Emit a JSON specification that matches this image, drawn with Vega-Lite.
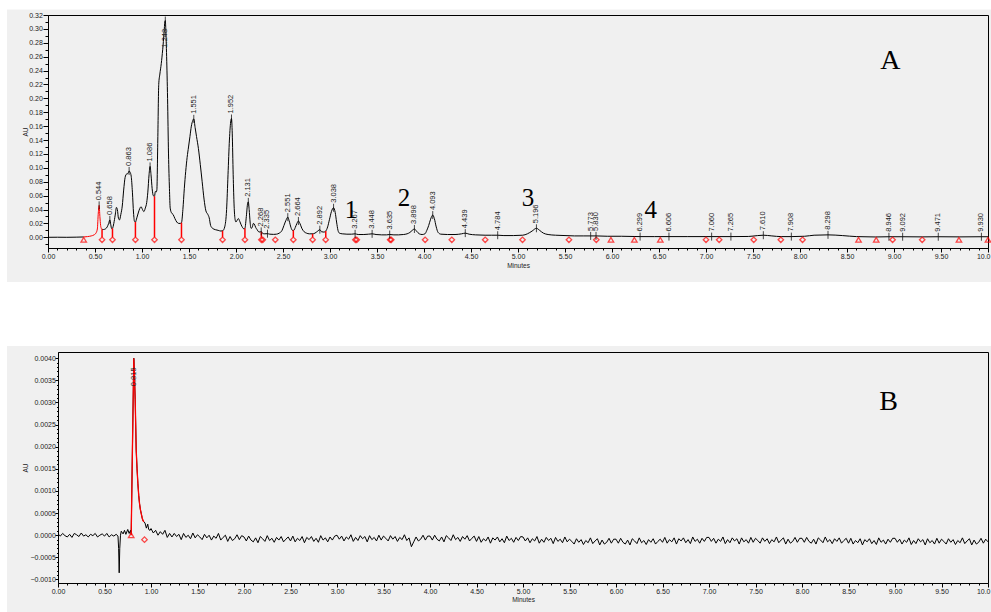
{
  "$schema": "https://vega.github.io/schema/vega-lite/v6.json",
  "background": "#f0f0f0",
  "padding": 0,
  "spacing": 0,
  "config": {
    "view": {"stroke": "black", "strokeWidth": 1},
    "axis": {"labelFont": "Liberation Sans", "labelFontSize": 7, "labelColor": "#222", "titleFont": "Liberation Sans", "titleFontSize": 6.5, "titleFontWeight": "normal", "titleColor": "#222", "domainColor": "black", "tickColor": "black", "grid": false, "labelOverlap": false, "labelFlush": false, "labelBound": false}
  },
  "datasets": {
    "top": [
      {"t":0,"v":0,"p":"b1"},{"t":0.1,"v":0.0001,"p":"b1"},{"t":0.2,"v":0,"p":"b1"},{"t":0.3,"v":0.0002,"p":"b1"},{"t":0.38,"v":0.0005,"p":"b1"},
      {"t":0.38,"v":0.0005,"p":"r"},{"t":0.42,"v":0.001,"p":"r"},{"t":0.46,"v":0.002,"p":"r"},{"t":0.49,"v":0.0035,"p":"r"},{"t":0.51,"v":0.006,"p":"r"},{"t":0.525,"v":0.012,"p":"r"},{"t":0.535,"v":0.035,"p":"r"},{"t":0.544,"v":0.046,"p":"r"},{"t":0.552,"v":0.03,"p":"r"},{"t":0.56,"v":0.017,"p":"r"},{"t":0.568,"v":0.0125,"p":"r"},{"t":0.575,"v":0.0115,"p":"r"},
      {"t":0.575,"v":0.0115,"p":"b2"},{"t":0.59,"v":0.0112,"p":"b2"},{"t":0.61,"v":0.012,"p":"b2"},{"t":0.63,"v":0.015,"p":"b2"},{"t":0.645,"v":0.02,"p":"b2"},{"t":0.658,"v":0.025,"p":"b2"},{"t":0.668,"v":0.018,"p":"b2"},{"t":0.677,"v":0.0125,"p":"b2"},{"t":0.686,"v":0.013,"p":"b2"},{"t":0.7,"v":0.02,"p":"b2"},{"t":0.715,"v":0.032,"p":"b2"},{"t":0.728,"v":0.043,"p":"b2"},{"t":0.738,"v":0.04,"p":"b2"},{"t":0.75,"v":0.027,"p":"b2"},{"t":0.76,"v":0.025,"p":"b2"},{"t":0.775,"v":0.033,"p":"b2"},{"t":0.79,"v":0.045,"p":"b2"},{"t":0.805,"v":0.068,"p":"b2"},{"t":0.82,"v":0.086,"p":"b2"},{"t":0.835,"v":0.091,"p":"b2"},{"t":0.848,"v":0.0915,"p":"b2"},{"t":0.856,"v":0.0935,"p":"b2"},{"t":0.863,"v":0.0955,"p":"b2"},{"t":0.872,"v":0.094,"p":"b2"},{"t":0.885,"v":0.088,"p":"b2"},{"t":0.898,"v":0.065,"p":"b2"},{"t":0.91,"v":0.035,"p":"b2"},{"t":0.92,"v":0.023,"p":"b2"},{"t":0.93,"v":0.022,"p":"b2"},{"t":0.945,"v":0.028,"p":"b2"},{"t":0.96,"v":0.035,"p":"b2"},{"t":0.975,"v":0.041,"p":"b2"},{"t":0.99,"v":0.044,"p":"b2"},{"t":1.005,"v":0.04,"p":"b2"},{"t":1.02,"v":0.037,"p":"b2"},{"t":1.035,"v":0.042,"p":"b2"},{"t":1.05,"v":0.05,"p":"b2"},{"t":1.062,"v":0.065,"p":"b2"},{"t":1.075,"v":0.09,"p":"b2"},{"t":1.086,"v":0.102,"p":"b2"},{"t":1.096,"v":0.09,"p":"b2"},{"t":1.108,"v":0.07,"p":"b2"},{"t":1.12,"v":0.06,"p":"b2"},{"t":1.133,"v":0.059,"p":"b2"},{"t":1.142,"v":0.066,"p":"b2"},{"t":1.15,"v":0.065,"p":"b2"},{"t":1.158,"v":0.068,"p":"b2"},{"t":1.168,"v":0.14,"p":"b2"},{"t":1.178,"v":0.22,"p":"b2"},{"t":1.19,"v":0.235,"p":"b2"},{"t":1.205,"v":0.25,"p":"b2"},{"t":1.22,"v":0.27,"p":"b2"},{"t":1.235,"v":0.295,"p":"b2"},{"t":1.243,"v":0.31,"p":"b2"},{"t":1.248,"v":0.312,"p":"b2"},{"t":1.253,"v":0.3,"p":"b2"},{"t":1.262,"v":0.26,"p":"b2"},{"t":1.272,"v":0.2,"p":"b2"},{"t":1.282,"v":0.12,"p":"b2"},{"t":1.292,"v":0.07,"p":"b2"},{"t":1.3,"v":0.042,"p":"b2"},{"t":1.315,"v":0.035,"p":"b2"},{"t":1.33,"v":0.033,"p":"b2"},{"t":1.35,"v":0.027,"p":"b2"},{"t":1.37,"v":0.022,"p":"b2"},{"t":1.39,"v":0.02,"p":"b2"},{"t":1.405,"v":0.02,"p":"b2"},{"t":1.42,"v":0.021,"p":"b2"},{"t":1.435,"v":0.04,"p":"b2"},{"t":1.45,"v":0.07,"p":"b2"},{"t":1.465,"v":0.095,"p":"b2"},{"t":1.48,"v":0.115,"p":"b2"},{"t":1.495,"v":0.13,"p":"b2"},{"t":1.51,"v":0.145,"p":"b2"},{"t":1.525,"v":0.16,"p":"b2"},{"t":1.54,"v":0.168,"p":"b2"},{"t":1.551,"v":0.1705,"p":"b2"},{"t":1.565,"v":0.158,"p":"b2"},{"t":1.58,"v":0.145,"p":"b2"},{"t":1.6,"v":0.128,"p":"b2"},{"t":1.62,"v":0.105,"p":"b2"},{"t":1.64,"v":0.08,"p":"b2"},{"t":1.66,"v":0.055,"p":"b2"},{"t":1.68,"v":0.038,"p":"b2"},{"t":1.7,"v":0.033,"p":"b2"},{"t":1.715,"v":0.028,"p":"b2"},{"t":1.73,"v":0.017,"p":"b2"},{"t":1.75,"v":0.013,"p":"b2"},{"t":1.78,"v":0.011,"p":"b2"},{"t":1.81,"v":0.01,"p":"b2"},{"t":1.84,"v":0.009,"p":"b2"},{"t":1.86,"v":0.0095,"p":"b2"},{"t":1.88,"v":0.015,"p":"b2"},{"t":1.9,"v":0.04,"p":"b2"},{"t":1.915,"v":0.09,"p":"b2"},{"t":1.93,"v":0.14,"p":"b2"},{"t":1.945,"v":0.168,"p":"b2"},{"t":1.952,"v":0.171,"p":"b2"},{"t":1.96,"v":0.15,"p":"b2"},{"t":1.97,"v":0.09,"p":"b2"},{"t":1.98,"v":0.045,"p":"b2"},{"t":1.99,"v":0.026,"p":"b2"},{"t":2.0,"v":0.022,"p":"b2"},{"t":2.01,"v":0.024,"p":"b2"},{"t":2.025,"v":0.027,"p":"b2"},{"t":2.04,"v":0.023,"p":"b2"},{"t":2.055,"v":0.018,"p":"b2"},{"t":2.07,"v":0.014,"p":"b2"},{"t":2.085,"v":0.012,"p":"b2"},{"t":2.095,"v":0.013,"p":"b2"},{"t":2.11,"v":0.03,"p":"b2"},{"t":2.124,"v":0.049,"p":"b2"},{"t":2.131,"v":0.051,"p":"b2"},{"t":2.14,"v":0.04,"p":"b2"},{"t":2.15,"v":0.022,"p":"b2"},{"t":2.16,"v":0.013,"p":"b2"},{"t":2.172,"v":0.014,"p":"b2"},{"t":2.185,"v":0.02,"p":"b2"},{"t":2.195,"v":0.019,"p":"b2"},{"t":2.21,"v":0.014,"p":"b2"},{"t":2.225,"v":0.011,"p":"b2"},{"t":2.24,"v":0.008,"p":"b2"},{"t":2.255,"v":0.0075,"p":"b2"},{"t":2.268,"v":0.0085,"p":"b2"},{"t":2.28,"v":0.006,"p":"b2"},{"t":2.3,"v":0.005,"p":"b2"},{"t":2.335,"v":0.0052,"p":"b2"},{"t":2.36,"v":0.0045,"p":"b2"},{"t":2.4,"v":0.0042,"p":"b2"},{"t":2.43,"v":0.0045,"p":"b2"},{"t":2.46,"v":0.006,"p":"b2"},{"t":2.49,"v":0.01,"p":"b2"},{"t":2.51,"v":0.017,"p":"b2"},{"t":2.53,"v":0.024,"p":"b2"},{"t":2.551,"v":0.029,"p":"b2"},{"t":2.565,"v":0.024,"p":"b2"},{"t":2.585,"v":0.014,"p":"b2"},{"t":2.6,"v":0.01,"p":"b2"},{"t":2.615,"v":0.01,"p":"b2"},{"t":2.63,"v":0.014,"p":"b2"},{"t":2.648,"v":0.02,"p":"b2"},{"t":2.664,"v":0.0235,"p":"b2"},{"t":2.68,"v":0.02,"p":"b2"},{"t":2.7,"v":0.013,"p":"b2"},{"t":2.725,"v":0.008,"p":"b2"},{"t":2.75,"v":0.006,"p":"b2"},{"t":2.78,"v":0.005,"p":"b2"},{"t":2.81,"v":0.005,"p":"b2"},{"t":2.84,"v":0.006,"p":"b2"},{"t":2.87,"v":0.009,"p":"b2"},{"t":2.892,"v":0.011,"p":"b2"},{"t":2.91,"v":0.008,"p":"b2"},{"t":2.935,"v":0.0075,"p":"b2"},{"t":2.955,"v":0.009,"p":"b2"},{"t":2.975,"v":0.015,"p":"b2"},{"t":2.995,"v":0.026,"p":"b2"},{"t":3.015,"v":0.037,"p":"b2"},{"t":3.038,"v":0.0425,"p":"b2"},{"t":3.055,"v":0.036,"p":"b2"},{"t":3.07,"v":0.022,"p":"b2"},{"t":3.085,"v":0.01,"p":"b2"},{"t":3.1,"v":0.006,"p":"b2"},{"t":3.13,"v":0.005,"p":"b2"},{"t":3.18,"v":0.0045,"p":"b2"},{"t":3.23,"v":0.0045,"p":"b2"},{"t":3.267,"v":0.005,"p":"b2"},{"t":3.3,"v":0.004,"p":"b2"},{"t":3.36,"v":0.004,"p":"b2"},{"t":3.41,"v":0.0045,"p":"b2"},{"t":3.448,"v":0.005,"p":"b2"},{"t":3.49,"v":0.004,"p":"b2"},{"t":3.55,"v":0.0035,"p":"b2"},{"t":3.6,"v":0.0035,"p":"b2"},{"t":3.635,"v":0.004,"p":"b2"},{"t":3.68,"v":0.0035,"p":"b2"},{"t":3.73,"v":0.0035,"p":"b2"},{"t":3.78,"v":0.004,"p":"b2"},{"t":3.82,"v":0.005,"p":"b2"},{"t":3.85,"v":0.007,"p":"b2"},{"t":3.875,"v":0.01,"p":"b2"},{"t":3.898,"v":0.012,"p":"b2"},{"t":3.92,"v":0.009,"p":"b2"},{"t":3.95,"v":0.005,"p":"b2"},{"t":3.98,"v":0.004,"p":"b2"},{"t":4.01,"v":0.005,"p":"b2"},{"t":4.03,"v":0.01,"p":"b2"},{"t":4.05,"v":0.017,"p":"b2"},{"t":4.07,"v":0.026,"p":"b2"},{"t":4.093,"v":0.032,"p":"b2"},{"t":4.11,"v":0.027,"p":"b2"},{"t":4.13,"v":0.015,"p":"b2"},{"t":4.15,"v":0.007,"p":"b2"},{"t":4.18,"v":0.0045,"p":"b2"},{"t":4.25,"v":0.004,"p":"b2"},{"t":4.33,"v":0.004,"p":"b2"},{"t":4.4,"v":0.005,"p":"b2"},{"t":4.439,"v":0.006,"p":"b2"},{"t":4.48,"v":0.0045,"p":"b2"},{"t":4.55,"v":0.0035,"p":"b2"},{"t":4.65,"v":0.003,"p":"b2"},{"t":4.72,"v":0.003,"p":"b2"},{"t":4.784,"v":0.003,"p":"b2"},{"t":4.85,"v":0.0025,"p":"b2"},{"t":4.95,"v":0.0025,"p":"b2"},{"t":5.05,"v":0.003,"p":"b2"},{"t":5.1,"v":0.005,"p":"b2"},{"t":5.15,"v":0.009,"p":"b2"},{"t":5.196,"v":0.013,"p":"b2"},{"t":5.23,"v":0.01,"p":"b2"},{"t":5.27,"v":0.006,"p":"b2"},{"t":5.32,"v":0.004,"p":"b2"},{"t":5.4,"v":0.003,"p":"b2"},{"t":5.5,"v":0.0025,"p":"b2"},{"t":5.6,"v":0.002,"p":"b2"},{"t":5.7,"v":0.002,"p":"b2"},{"t":5.773,"v":0.002,"p":"b2"},{"t":5.83,"v":0.002,"p":"b2"},{"t":5.95,"v":0.0015,"p":"b2"},{"t":6.1,"v":0.0015,"p":"b2"},{"t":6.299,"v":0.001,"p":"b2"},{"t":6.45,"v":0.001,"p":"b2"},{"t":6.606,"v":0.001,"p":"b2"},{"t":6.8,"v":0.001,"p":"b2"},{"t":7.06,"v":0.001,"p":"b2"},{"t":7.265,"v":0.001,"p":"b2"},{"t":7.45,"v":0.0012,"p":"b2"},{"t":7.55,"v":0.0025,"p":"b2"},{"t":7.61,"v":0.003,"p":"b2"},{"t":7.7,"v":0.002,"p":"b2"},{"t":7.8,"v":0.001,"p":"b2"},{"t":7.908,"v":0.001,"p":"b2"},{"t":8.05,"v":0.0015,"p":"b2"},{"t":8.15,"v":0.003,"p":"b2"},{"t":8.298,"v":0.0035,"p":"b2"},{"t":8.45,"v":0.0025,"p":"b2"},{"t":8.6,"v":0.001,"p":"b2"},{"t":8.8,"v":0.0005,"p":"b2"},{"t":8.946,"v":0.0008,"p":"b2"},{"t":9.092,"v":0.0008,"p":"b2"},{"t":9.3,"v":0.0006,"p":"b2"},{"t":9.471,"v":0.0008,"p":"b2"},{"t":9.7,"v":0.0006,"p":"b2"},{"t":9.93,"v":0.0008,"p":"b2"},{"t":10,"v":0.0008,"p":"b2"}
    ],
    "drops": [
      {"t":0.575,"v":0.0115},{"t":0.686,"v":0.013},{"t":0.93,"v":0.022},{"t":1.133,"v":0.059},{"t":1.42,"v":0.021},{"t":1.857,"v":0.0093},{"t":2.095,"v":0.013},{"t":2.27,"v":0.008},{"t":2.61,"v":0.01},{"t":2.815,"v":0.005},{"t":2.955,"v":0.009}
    ],
    "mk": [
      {"t":0.38,"v":0,"s":"t"},{"t":0.575,"v":0,"s":"d"},{"t":0.686,"v":0,"s":"d"},{"t":0.93,"v":0,"s":"d"},{"t":1.133,"v":0,"s":"d"},{"t":1.42,"v":0,"s":"d"},{"t":1.857,"v":0,"s":"d"},{"t":2.095,"v":0,"s":"d"},{"t":2.27,"v":0,"s":"d"},{"t":2.285,"v":0,"s":"d"},{"t":2.418,"v":0,"s":"d"},{"t":2.61,"v":0,"s":"d"},{"t":2.815,"v":0,"s":"d"},{"t":2.954,"v":0,"s":"d"},{"t":3.27,"v":0,"s":"d"},{"t":3.285,"v":0,"s":"d"},{"t":3.64,"v":0,"s":"d"},{"t":3.652,"v":0,"s":"d"},{"t":4.012,"v":0,"s":"d"},{"t":4.296,"v":0,"s":"d"},{"t":4.651,"v":0,"s":"d"},{"t":5.048,"v":0,"s":"d"},{"t":5.542,"v":0,"s":"d"},{"t":5.833,"v":0,"s":"d"},{"t":5.989,"v":0,"s":"t"},{"t":6.238,"v":0,"s":"t"},{"t":6.514,"v":0,"s":"t"},{"t":7.0,"v":0,"s":"d"},{"t":7.14,"v":0,"s":"d"},{"t":7.508,"v":0,"s":"d"},{"t":7.796,"v":0,"s":"d"},{"t":8.027,"v":0,"s":"d"},{"t":8.623,"v":0,"s":"t"},{"t":8.811,"v":0,"s":"t"},{"t":8.985,"v":0,"s":"d"},{"t":9.3,"v":0,"s":"d"},{"t":9.691,"v":0,"s":"t"},{"t":10.0,"v":0,"s":"t"}
    ],
    "pk": [
      {"t":0.544,"h":0.046},{"t":0.658,"h":0.025},{"t":0.863,"h":0.0955},{"t":1.086,"h":0.102},{"t":1.248,"h":0.312},{"t":1.551,"h":0.1705},{"t":1.952,"h":0.171},{"t":2.131,"h":0.051},{"t":2.268,"h":0.0085},{"t":2.335,"h":0.0052},{"t":2.551,"h":0.029},{"t":2.664,"h":0.0235},{"t":2.892,"h":0.011},{"t":3.038,"h":0.0425},{"t":3.267,"h":0.005},{"t":3.448,"h":0.005},{"t":3.635,"h":0.004},{"t":3.898,"h":0.012},{"t":4.093,"h":0.032},{"t":4.439,"h":0.006},{"t":4.784,"h":0.003},{"t":5.196,"h":0.013},{"t":5.773,"h":0.002},{"t":5.83,"h":0.002},{"t":6.299,"h":0.001},{"t":6.606,"h":0.001},{"t":7.06,"h":0.001},{"t":7.265,"h":0.001},{"t":7.61,"h":0.003},{"t":7.908,"h":0.001},{"t":8.298,"h":0.0035},{"t":8.946,"h":0.0008},{"t":9.092,"h":0.0008},{"t":9.471,"h":0.0008},{"t":9.93,"h":0.0008}
    ],
    "ann": [
      {"t":3.224,"v":0.039,"s":"1","k":"n"},{"t":3.788,"v":0.0561,"s":"2","k":"n"},{"t":5.107,"v":0.0561,"s":"3","k":"n"},{"t":6.413,"v":0.039,"s":"4","k":"n"},{"t":8.961,"v":0.2535,"s":"A","k":"L"}
    ],
    "bot": [
      {"t":0,"v":0.00003},{"t":0.025,"v":-0.00002},{"t":0.05,"v":0.00004},{"t":0.075,"v":-0.00001},{"t":0.1,"v":-0.00004},{"t":0.125,"v":0.00002},{"t":0.15,"v":-0.00005},{"t":0.175,"v":0.00004},{"t":0.2,"v":0.00001},{"t":0.225,"v":-0.00003},
      {"t":0.25,"v":0.00005},{"t":0.275,"v":-0.00002},{"t":0.3,"v":0.00001},{"t":0.325,"v":-0.00004},{"t":0.35,"v":0.00002},{"t":0.375,"v":-0.00001},{"t":0.4,"v":0.00004},{"t":0.425,"v":-0.00004},{"t":0.45,"v":0.0},{"t":0.475,"v":0.00003},
      {"t":0.5,"v":-0.00002},{"t":0.525,"v":0.00004},{"t":0.55,"v":-0.00004},{"t":0.575,"v":0.00001},{"t":0.6,"v":-0.00002},{"t":0.625,"v":0.00002},{"t":0.645,"v":-0.00002},{"t":0.652,"v":-0.0003},{"t":0.658,"v":-0.00085},{"t":0.664,"v":-0.0003},{"t":0.672,"v":0.0},{"t":0.68,"v":0.00009},
      {"t":0.7,"v":0.00003},{"t":0.715,"v":0.00011},{"t":0.73,"v":0.00002},{"t":0.75,"v":0.00013},{"t":0.765,"v":0.00004},{"t":0.78,"v":0.00011},{"t":0.787,"v":0.00002},
      {"t":0.8,"v":0.0019},{"t":0.815,"v":0.004},{"t":0.822,"v":0.0036},{"t":0.83,"v":0.00306},{"t":0.841,"v":0.00192},{"t":0.85,"v":0.0015},{"t":0.859,"v":0.00117},{"t":0.868,"v":0.0009},{"t":0.877,"v":0.00071},{"t":0.886,"v":0.00058},{"t":0.895,"v":0.00049},{"t":0.904,"v":0.0004},{"t":0.912,"v":0.00034},{"t":0.923,"v":0.0003},
      {"t":0.935,"v":0.00028},{"t":0.95,"v":0.00016},{"t":0.965,"v":0.00025},{"t":0.975,"v":0.00013},{"t":0.99,"v":0.00011},
      {"t":1.0,"v":0.00015},{"t":1.025,"v":0.00005},{"t":1.05,"v":0.00011},{"t":1.075,"v":0.0},{"t":1.1,"v":0.00008},{"t":1.125,"v":0.00002},{"t":1.15,"v":0.00011},{"t":1.175,"v":-0.00005},{"t":1.2,"v":0.00004},{"t":1.225,"v":-0.00004},
      {"t":1.25,"v":0.00004},{"t":1.275,"v":-0.00003},{"t":1.3,"v":0.00002},{"t":1.325,"v":-0.0001},{"t":1.35,"v":0.00004},{"t":1.375,"v":-0.00005},{"t":1.4,"v":0.0},{"t":1.425,"v":-0.00008},{"t":1.45,"v":0.00005},{"t":1.475,"v":-0.00006},
      {"t":1.5,"v":0.00001},{"t":1.525,"v":-0.00004},{"t":1.55,"v":-0.0001},{"t":1.575,"v":0.00002},{"t":1.6,"v":-0.00006},{"t":1.625,"v":0.0},{"t":1.65,"v":-0.00011},{"t":1.675,"v":-0.00002},{"t":1.7,"v":-0.00007},{"t":1.725,"v":0.00004},
      {"t":1.75,"v":-0.00011},{"t":1.775,"v":-0.00005},{"t":1.8,"v":0.0},{"t":1.825,"v":-0.00014},{"t":1.85,"v":-0.00003},{"t":1.875,"v":-0.00012},{"t":1.9,"v":-0.00008},{"t":1.925,"v":0.00001},{"t":1.95,"v":-0.0001},{"t":1.975,"v":-0.00001},
      {"t":2.0,"v":-0.00004},{"t":2.025,"v":-0.00013},{"t":2.05,"v":-0.00002},{"t":2.075,"v":-0.00011},{"t":2.1,"v":-0.00015},{"t":2.125,"v":-0.00006},{"t":2.15,"v":-0.00017},{"t":2.175,"v":-0.00003},{"t":2.2,"v":-0.00008},{"t":2.225,"v":-0.00014},
      {"t":2.25,"v":-0.00001},{"t":2.275,"v":-0.00012},{"t":2.3,"v":-0.00007},{"t":2.325,"v":-0.00016},{"t":2.35,"v":-0.00005},{"t":2.375,"v":-0.00011},{"t":2.4,"v":-0.00003},{"t":2.425,"v":-0.00015},{"t":2.45,"v":-0.00009},{"t":2.475,"v":-0.00004},
      {"t":2.5,"v":-0.00013},{"t":2.525,"v":-0.00002},{"t":2.55,"v":-0.00015},{"t":2.575,"v":-0.00007},{"t":2.6,"v":-0.00012},{"t":2.625,"v":-0.00003},{"t":2.65,"v":-0.00017},{"t":2.675,"v":-0.00005},{"t":2.7,"v":-0.0001},{"t":2.725,"v":-0.00003},
      {"t":2.75,"v":-0.00014},{"t":2.775,"v":-0.00007},{"t":2.8,"v":-0.00016},{"t":2.825,"v":-0.00001},{"t":2.85,"v":-0.00011},{"t":2.875,"v":-0.00006},{"t":2.9,"v":-0.00015},{"t":2.925,"v":-0.00004},{"t":2.95,"v":-0.00011},{"t":2.975,"v":-0.00002},
      {"t":3.0,"v":0.0},{"t":3.025,"v":-0.00009},{"t":3.05,"v":-0.00002},{"t":3.075,"v":-0.00013},{"t":3.1,"v":-0.00004},{"t":3.125,"v":-0.00009},{"t":3.15,"v":0.00001},{"t":3.175,"v":-0.00014},{"t":3.2,"v":-0.00005},{"t":3.225,"v":-0.00012},
      {"t":3.25,"v":-0.00001},{"t":3.275,"v":-0.00008},{"t":3.3,"v":-0.00003},{"t":3.325,"v":-0.00015},{"t":3.35,"v":-0.00001},{"t":3.375,"v":-0.0001},{"t":3.4,"v":-0.00005},{"t":3.425,"v":-0.00013},{"t":3.45,"v":0.0},{"t":3.475,"v":-0.00011},
      {"t":3.5,"v":-0.00002},{"t":3.525,"v":-0.00007},{"t":3.55,"v":-0.00013},{"t":3.575,"v":-0.00001},{"t":3.6,"v":-0.00009},{"t":3.625,"v":-0.00003},{"t":3.65,"v":-0.00014},{"t":3.675,"v":-0.00005},{"t":3.7,"v":-0.0001},{"t":3.725,"v":0.00001},
      {"t":3.75,"v":-0.00012},{"t":3.775,"v":-0.00006},{"t":3.8,"v":-0.00026},{"t":3.825,"v":-0.00015},{"t":3.85,"v":-0.00004},{"t":3.875,"v":-0.00013},{"t":3.9,"v":-0.00009},{"t":3.925,"v":0.0},{"t":3.95,"v":-0.00011},{"t":3.975,"v":-0.00002},
      {"t":4.0,"v":-0.00002},{"t":4.025,"v":-0.00011},{"t":4.05,"v":0.0},{"t":4.075,"v":-0.00009},{"t":4.1,"v":-0.00013},{"t":4.125,"v":-0.00004},{"t":4.15,"v":-0.00015},{"t":4.175,"v":-0.00001},{"t":4.2,"v":-0.00006},{"t":4.225,"v":-0.00012},
      {"t":4.25,"v":0.00001},{"t":4.275,"v":-0.0001},{"t":4.3,"v":-0.00005},{"t":4.325,"v":-0.00014},{"t":4.35,"v":-0.00003},{"t":4.375,"v":-0.00009},{"t":4.4,"v":-0.00001},{"t":4.425,"v":-0.00013},{"t":4.45,"v":-0.00007},{"t":4.475,"v":-0.00002},
      {"t":4.5,"v":-0.00014},{"t":4.525,"v":-0.00003},{"t":4.55,"v":-0.00016},{"t":4.575,"v":-0.00008},{"t":4.6,"v":-0.00013},{"t":4.625,"v":-0.00004},{"t":4.65,"v":-0.00018},{"t":4.675,"v":-0.00006},{"t":4.7,"v":-0.00011},{"t":4.725,"v":-0.00004},
      {"t":4.75,"v":-0.00015},{"t":4.775,"v":-0.00008},{"t":4.8,"v":-0.00017},{"t":4.825,"v":-0.00002},{"t":4.85,"v":-0.00012},{"t":4.875,"v":-0.00007},{"t":4.9,"v":-0.00016},{"t":4.925,"v":-0.00005},{"t":4.95,"v":-0.00012},{"t":4.975,"v":-0.00003},
      {"t":5.0,"v":-0.00004},{"t":5.025,"v":-0.00013},{"t":5.05,"v":-0.00006},{"t":5.075,"v":-0.00017},{"t":5.1,"v":-0.00008},{"t":5.125,"v":-0.00013},{"t":5.15,"v":-0.00003},{"t":5.175,"v":-0.00018},{"t":5.2,"v":-0.00009},{"t":5.225,"v":-0.00016},
      {"t":5.25,"v":-0.00005},{"t":5.275,"v":-0.00012},{"t":5.3,"v":-0.00007},{"t":5.325,"v":-0.00019},{"t":5.35,"v":-0.00005},{"t":5.375,"v":-0.00014},{"t":5.4,"v":-0.00009},{"t":5.425,"v":-0.00017},{"t":5.45,"v":-0.00004},{"t":5.475,"v":-0.00015},
      {"t":5.5,"v":-0.00009},{"t":5.525,"v":-0.00014},{"t":5.55,"v":-0.0002},{"t":5.575,"v":-0.00008},{"t":5.6,"v":-0.00016},{"t":5.625,"v":-0.0001},{"t":5.65,"v":-0.00021},{"t":5.675,"v":-0.00012},{"t":5.7,"v":-0.00017},{"t":5.725,"v":-0.00006},
      {"t":5.75,"v":-0.00019},{"t":5.775,"v":-0.00013},{"t":5.8,"v":-0.00008},{"t":5.825,"v":-0.00022},{"t":5.85,"v":-0.00011},{"t":5.875,"v":-0.0002},{"t":5.9,"v":-0.00016},{"t":5.925,"v":-0.00007},{"t":5.95,"v":-0.00018},{"t":5.975,"v":-0.00009},
      {"t":6.0,"v":-0.00009},{"t":6.025,"v":-0.00018},{"t":6.05,"v":-0.00007},{"t":6.075,"v":-0.00016},{"t":6.1,"v":-0.0002},{"t":6.125,"v":-0.00011},{"t":6.15,"v":-0.00022},{"t":6.175,"v":-0.00008},{"t":6.2,"v":-0.00013},{"t":6.225,"v":-0.00019},
      {"t":6.25,"v":-0.00006},{"t":6.275,"v":-0.00017},{"t":6.3,"v":-0.00012},{"t":6.325,"v":-0.00021},{"t":6.35,"v":-0.0001},{"t":6.375,"v":-0.00016},{"t":6.4,"v":-0.00008},{"t":6.425,"v":-0.0002},{"t":6.45,"v":-0.00014},{"t":6.475,"v":-0.00009},
      {"t":6.5,"v":-0.00016},{"t":6.525,"v":-0.00005},{"t":6.55,"v":-0.00018},{"t":6.575,"v":-0.0001},{"t":6.6,"v":-0.00015},{"t":6.625,"v":-0.00006},{"t":6.65,"v":-0.0002},{"t":6.675,"v":-0.00008},{"t":6.7,"v":-0.00013},{"t":6.725,"v":-0.00006},
      {"t":6.75,"v":-0.00017},{"t":6.775,"v":-0.0001},{"t":6.8,"v":-0.00019},{"t":6.825,"v":-0.00004},{"t":6.85,"v":-0.00014},{"t":6.875,"v":-0.00009},{"t":6.9,"v":-0.00018},{"t":6.925,"v":-0.00007},{"t":6.95,"v":-0.00014},{"t":6.975,"v":-0.00005},
      {"t":7.0,"v":-0.00005},{"t":7.025,"v":-0.00014},{"t":7.05,"v":-0.00007},{"t":7.075,"v":-0.00018},{"t":7.1,"v":-0.00009},{"t":7.125,"v":-0.00014},{"t":7.15,"v":-0.00004},{"t":7.175,"v":-0.00019},{"t":7.2,"v":-0.0001},{"t":7.225,"v":-0.00017},
      {"t":7.25,"v":-0.00006},{"t":7.275,"v":-0.00013},{"t":7.3,"v":-0.00008},{"t":7.325,"v":-0.0002},{"t":7.35,"v":-0.00006},{"t":7.375,"v":-0.00015},{"t":7.4,"v":-0.0001},{"t":7.425,"v":-0.00018},{"t":7.45,"v":-0.00005},{"t":7.475,"v":-0.00016},
      {"t":7.5,"v":-0.00007},{"t":7.525,"v":-0.00012},{"t":7.55,"v":-0.00018},{"t":7.575,"v":-0.00006},{"t":7.6,"v":-0.00014},{"t":7.625,"v":-0.00008},{"t":7.65,"v":-0.00019},{"t":7.675,"v":-0.0001},{"t":7.7,"v":-0.00015},{"t":7.725,"v":-0.00004},
      {"t":7.75,"v":-0.00017},{"t":7.775,"v":-0.00011},{"t":7.8,"v":-0.00006},{"t":7.825,"v":-0.0002},{"t":7.85,"v":-0.00009},{"t":7.875,"v":-0.00018},{"t":7.9,"v":-0.00014},{"t":7.925,"v":-0.00005},{"t":7.95,"v":-0.00016},{"t":7.975,"v":-0.00007},
      {"t":8.0,"v":-0.00007},{"t":8.025,"v":-0.00016},{"t":8.05,"v":-0.00005},{"t":8.075,"v":-0.00014},{"t":8.1,"v":-0.00018},{"t":8.125,"v":-0.00009},{"t":8.15,"v":-0.0002},{"t":8.175,"v":-0.00006},{"t":8.2,"v":-0.00011},{"t":8.225,"v":-0.00017},
      {"t":8.25,"v":-0.00004},{"t":8.275,"v":-0.00015},{"t":8.3,"v":-0.0001},{"t":8.325,"v":-0.00019},{"t":8.35,"v":-0.00008},{"t":8.375,"v":-0.00014},{"t":8.4,"v":-0.00006},{"t":8.425,"v":-0.00018},{"t":8.45,"v":-0.00012},{"t":8.475,"v":-0.00007},
      {"t":8.5,"v":-0.00018},{"t":8.525,"v":-0.00007},{"t":8.55,"v":-0.0002},{"t":8.575,"v":-0.00012},{"t":8.6,"v":-0.00017},{"t":8.625,"v":-0.00008},{"t":8.65,"v":-0.00022},{"t":8.675,"v":-0.0001},{"t":8.7,"v":-0.00015},{"t":8.725,"v":-0.00008},
      {"t":8.75,"v":-0.00019},{"t":8.775,"v":-0.00012},{"t":8.8,"v":-0.00021},{"t":8.825,"v":-0.00006},{"t":8.85,"v":-0.00016},{"t":8.875,"v":-0.00011},{"t":8.9,"v":-0.0002},{"t":8.925,"v":-0.00009},{"t":8.95,"v":-0.00016},{"t":8.975,"v":-0.00007},
      {"t":9.0,"v":-0.00007},{"t":9.025,"v":-0.00016},{"t":9.05,"v":-0.00009},{"t":9.075,"v":-0.0002},{"t":9.1,"v":-0.00011},{"t":9.125,"v":-0.00016},{"t":9.15,"v":-0.00006},{"t":9.175,"v":-0.00021},{"t":9.2,"v":-0.00012},{"t":9.225,"v":-0.00019},
      {"t":9.25,"v":-0.00008},{"t":9.275,"v":-0.00015},{"t":9.3,"v":-0.0001},{"t":9.325,"v":-0.00022},{"t":9.35,"v":-0.00008},{"t":9.375,"v":-0.00017},{"t":9.4,"v":-0.00012},{"t":9.425,"v":-0.0002},{"t":9.45,"v":-0.00007},{"t":9.475,"v":-0.00018},
      {"t":9.5,"v":-0.00009},{"t":9.525,"v":-0.00014},{"t":9.55,"v":-0.0002},{"t":9.575,"v":-0.00008},{"t":9.6,"v":-0.00016},{"t":9.625,"v":-0.0001},{"t":9.65,"v":-0.00021},{"t":9.675,"v":-0.00012},{"t":9.7,"v":-0.00017},{"t":9.725,"v":-0.00006},
      {"t":9.75,"v":-0.00019},{"t":9.775,"v":-0.00013},{"t":9.8,"v":-0.00008},{"t":9.825,"v":-0.00022},{"t":9.85,"v":-0.00011},{"t":9.875,"v":-0.0002},{"t":9.9,"v":-0.00016},{"t":9.925,"v":-0.00007},{"t":9.95,"v":-0.00018},{"t":9.975,"v":-0.00009},{"t":10.0,"v":-0.00015}
    ],
    "botred": [
      {"t":0.787,"v":0.0},{"t":0.8,"v":0.0019},{"t":0.815,"v":0.004},{"t":0.822,"v":0.0036},{"t":0.83,"v":0.00306},{"t":0.841,"v":0.00192},{"t":0.85,"v":0.0015},{"t":0.859,"v":0.00117},{"t":0.868,"v":0.0009},{"t":0.877,"v":0.00071},{"t":0.886,"v":0.00058},{"t":0.895,"v":0.00049},{"t":0.904,"v":0.0004},{"t":0.912,"v":0.00034},{"t":0.923,"v":0.0003}
    ],
    "bmk": [
      {"t":0.787,"v":0.0,"s":"t"},{"t":0.93,"v":-0.0001,"s":"d"}
    ]
  },
  "hconcat": [
    {
      "width": 7, "height": 612,
      "view": {"fill": "white", "stroke": null},
      "data": {"values": []},
      "mark": {"type": "text"},
      "encoding": {}
    },
    {
      "spacing": 0,
      "vconcat": [
        {
          "width": 984, "height": 9.5,
          "view": {"fill": "white", "stroke": null},
          "data": {"values": []},
          "mark": {"type": "text"},
          "encoding": {}
        },
        {
          "spacing": 0,
          "hconcat": [
            {
              "width": 14, "height": 1,
              "view": {"fill": null, "stroke": null},
              "data": {"values": []},
              "mark": {"type": "text"},
              "encoding": {}
            },
            {
              "width": 940, "height": 233,
              "view": {"stroke": "black", "fill": null},
              "encoding": {
                "x": {"field": "t", "type": "quantitative",
                  "scale": {"domain": [0, 10], "nice": false, "zero": false},
                  "axis": {"title": "Minutes", "titlePadding": 2.5, "labelPadding": 0.5,
                    "values": [0,0.1,0.2,0.3,0.4,0.5,0.6,0.7,0.8,0.9,1,1.1,1.2,1.3,1.4,1.5,1.6,1.7,1.8,1.9,2,2.1,2.2,2.3,2.4,2.5,2.6,2.7,2.8,2.9,3,3.1,3.2,3.3,3.4,3.5,3.6,3.7,3.8,3.9,4,4.1,4.2,4.3,4.4,4.5,4.6,4.7,4.8,4.9,5,5.1,5.2,5.3,5.4,5.5,5.6,5.7,5.8,5.9,6,6.1,6.2,6.3,6.4,6.5,6.6,6.7,6.8,6.9,7,7.1,7.2,7.3,7.4,7.5,7.6,7.7,7.8,7.9,8,8.1,8.2,8.3,8.4,8.5,8.6,8.7,8.8,8.9,9,9.1,9.2,9.3,9.4,9.5,9.6,9.7,9.8,9.9,10],
                    "labelExpr": "abs(datum.value*2 - round(datum.value*2)) < 0.001 ? (datum.value > 9.95 ? '10.0' : format(datum.value, '.2f')) : ''",
                    "tickSize": {"condition": {"test": "abs(datum.value*2 - round(datum.value*2)) < 0.001", "value": 4}, "value": 2},
                    "labelAlign": {"condition": {"test": "datum.value > 9.95", "value": "right"}, "value": "center"},
                    "labelOffset": {"condition": {"test": "datum.value > 9.95", "value": 2}, "value": 0}
                  }
                },
                "y": {"field": "v", "type": "quantitative",
                  "scale": {"domain": [-0.0154, 0.32], "nice": false, "zero": false},
                  "axis": {"title": "AU", "titleX": -20, "labelPadding": 0.7,
                    "values": [-0.01,0,0.01,0.02,0.03,0.04,0.05,0.06,0.07,0.08,0.09,0.1,0.11,0.12,0.13,0.14,0.15,0.16,0.17,0.18,0.19,0.2,0.21,0.22,0.23,0.24,0.25,0.26,0.27,0.28,0.29,0.3,0.31,0.32],
                    "labelExpr": "(datum.value > -0.001 && abs(datum.value*50 - round(datum.value*50)) < 0.001) ? format(datum.value, '.2f') : ''",
                    "tickSize": {"condition": {"test": "datum.value > -0.001 && abs(datum.value*50 - round(datum.value*50)) < 0.001", "value": 5}, "value": 3}
                  }
                }
              },
              "layer": [
                {
                  "data": {"name": "top"},
                  "mark": {"type": "line", "interpolate": "monotone", "strokeWidth": 1},
                  "encoding": {
                    "color": {"field": "p", "type": "nominal", "scale": {"domain": ["b1", "r", "b2"], "range": ["black", "red", "black"]}, "legend": null}
                  }
                },
                {
                  "data": {"values": [{}]},
                  "mark": {"type": "rule", "color": "#ee1c1c", "strokeWidth": 2},
                  "encoding": {"x": {"datum": 0.38}, "x2": {"datum": 10}, "y": {"datum": 0}}
                },
                {
                  "data": {"name": "drops"},
                  "mark": {"type": "rule", "color": "red", "strokeWidth": 1.5},
                  "encoding": {"y2": {"datum": 0}}
                },
                {
                  "data": {"name": "mk"},
                  "mark": {"type": "point", "filled": false, "color": "red", "size": 30, "strokeWidth": 1.3, "yOffset": 2.5},
                  "encoding": {
                    "shape": {"field": "s", "type": "nominal", "scale": {"domain": ["d", "t"], "range": ["diamond", "triangle-up"]}, "legend": null}
                  }
                },
                {
                  "data": {"name": "pk"},
                  "mark": {"type": "point", "shape": "M0,-1L0,1", "filled": false, "color": "black", "size": 64, "strokeWidth": 1},
                  "encoding": {"y": {"field": "h", "type": "quantitative"}}
                },
                {
                  "data": {"name": "pk"},
                  "transform": [{"filter": "datum.t != 1.248"}],
                  "mark": {"type": "text", "angle": 270, "align": "left", "baseline": "middle", "dx": 5, "font": "Liberation Sans", "fontSize": 7.5, "color": "#222"},
                  "encoding": {"y": {"field": "h", "type": "quantitative"}, "text": {"field": "t", "type": "quantitative", "format": ".3f"}}
                },
                {
                  "data": {"name": "pk"},
                  "transform": [{"filter": "datum.t == 1.248"}],
                  "mark": {"type": "text", "angle": 270, "align": "left", "baseline": "middle", "dx": -27, "font": "Liberation Sans", "fontSize": 7.5, "color": "#222"},
                  "encoding": {"y": {"field": "h", "type": "quantitative"}, "text": {"field": "t", "type": "quantitative", "format": ".3f"}}
                },
                {
                  "data": {"name": "ann"},
                  "transform": [{"filter": "datum.k == 'n'"}],
                  "mark": {"type": "text", "font": "Liberation Serif", "fontSize": 25, "align": "center", "baseline": "middle", "color": "black"},
                  "encoding": {"text": {"field": "s"}}
                },
                {
                  "data": {"name": "ann"},
                  "transform": [{"filter": "datum.k == 'L'"}],
                  "mark": {"type": "text", "font": "Liberation Serif", "fontSize": 28, "align": "center", "baseline": "middle", "color": "black"},
                  "encoding": {"text": {"field": "s"}}
                }
              ]
            }
          ]
        },
        {
          "width": 984, "height": 13,
          "view": {"stroke": null, "fill": null},
          "data": {"values": []},
          "mark": {"type": "text"},
          "encoding": {}
        },
        {
          "width": 984, "height": 64,
          "view": {"fill": "white", "stroke": null},
          "data": {"values": []},
          "mark": {"type": "text"},
          "encoding": {}
        },
        {
          "width": 984, "height": 5,
          "view": {"stroke": null, "fill": null},
          "data": {"values": []},
          "mark": {"type": "text"},
          "encoding": {}
        },
        {
          "spacing": 0,
          "hconcat": [
            {
              "width": 14, "height": 1,
              "view": {"fill": null, "stroke": null},
              "data": {"values": []},
              "mark": {"type": "text"},
              "encoding": {}
            },
            {
              "width": 930, "height": 231,
              "view": {"stroke": "black", "fill": null},
              "encoding": {
                "x": {"field": "t", "type": "quantitative",
                  "scale": {"domain": [0, 10], "nice": false, "zero": false},
                  "axis": {"title": "Minutes", "titlePadding": 1.8, "labelPadding": 0.7,
                    "values": [0,0.1,0.2,0.3,0.4,0.5,0.6,0.7,0.8,0.9,1,1.1,1.2,1.3,1.4,1.5,1.6,1.7,1.8,1.9,2,2.1,2.2,2.3,2.4,2.5,2.6,2.7,2.8,2.9,3,3.1,3.2,3.3,3.4,3.5,3.6,3.7,3.8,3.9,4,4.1,4.2,4.3,4.4,4.5,4.6,4.7,4.8,4.9,5,5.1,5.2,5.3,5.4,5.5,5.6,5.7,5.8,5.9,6,6.1,6.2,6.3,6.4,6.5,6.6,6.7,6.8,6.9,7,7.1,7.2,7.3,7.4,7.5,7.6,7.7,7.8,7.9,8,8.1,8.2,8.3,8.4,8.5,8.6,8.7,8.8,8.9,9,9.1,9.2,9.3,9.4,9.5,9.6,9.7,9.8,9.9,10],
                    "labelExpr": "abs(datum.value*2 - round(datum.value*2)) < 0.001 ? (datum.value > 9.95 ? '10.0' : format(datum.value, '.2f')) : ''",
                    "tickSize": {"condition": {"test": "abs(datum.value*2 - round(datum.value*2)) < 0.001", "value": 4}, "value": 2},
                    "labelAlign": {"condition": {"test": "datum.value > 9.95", "value": "right"}, "value": "center"},
                    "labelOffset": {"condition": {"test": "datum.value > 9.95", "value": 2}, "value": 0}
                  }
                },
                "y": {"field": "v", "type": "quantitative",
                  "scale": {"domain": [-0.00108, 0.00414], "nice": false, "zero": false},
                  "axis": {"title": "AU", "titleX": -29.6, "labelPadding": -0.4,
                    "values": [-0.001,-0.0009,-0.0008,-0.0007,-0.0006,-0.0005,-0.0004,-0.0003,-0.0002,-0.0001,0,0.0001,0.0002,0.0003,0.0004,0.0005,0.0006,0.0007,0.0008,0.0009,0.001,0.0011,0.0012,0.0013,0.0014,0.0015,0.0016,0.0017,0.0018,0.0019,0.002,0.0021,0.0022,0.0023,0.0024,0.0025,0.0026,0.0027,0.0028,0.0029,0.003,0.0031,0.0032,0.0033,0.0034,0.0035,0.0036,0.0037,0.0038,0.0039,0.004],
                    "labelExpr": "abs(datum.value*2000 - round(datum.value*2000)) < 0.01 ? format(datum.value, '.4f') : ''",
                    "tickSize": {"condition": {"test": "abs(datum.value*2000 - round(datum.value*2000)) < 0.01", "value": 3}, "value": 1.5}
                  }
                }
              },
              "layer": [
                {
                  "data": {"name": "bot"},
                  "mark": {"type": "line", "color": "black", "strokeWidth": 1}
                },
                {
                  "data": {"name": "botred"},
                  "mark": {"type": "line", "color": "red", "strokeWidth": 1.3}
                },
                {
                  "data": {"values": [{}]},
                  "mark": {"type": "rule", "color": "red", "strokeWidth": 1},
                  "encoding": {"x": {"datum": 0.787}, "x2": {"datum": 0.93}, "y": {"datum": 0}, "y2": {"datum": -0.0001}}
                },
                {
                  "data": {"values": [{}]},
                  "mark": {"type": "rule", "color": "red", "strokeWidth": 1},
                  "encoding": {"x": {"datum": 0.925}, "y": {"datum": -0.0001}, "y2": {"datum": 0.0003}}
                },
                {
                  "data": {"name": "bmk"},
                  "mark": {"type": "point", "filled": false, "color": "red", "size": 30, "strokeWidth": 1.3},
                  "encoding": {
                    "shape": {"field": "s", "type": "nominal", "scale": {"domain": ["d", "t"], "range": ["diamond", "triangle-up"]}, "legend": null}
                  }
                },
                {
                  "data": {"values": [{"t": 0.815, "v": 0.004}]},
                  "mark": {"type": "text", "angle": 270, "align": "left", "baseline": "middle", "dx": -28, "font": "Liberation Sans", "fontSize": 7.5, "color": "#222"},
                  "encoding": {"text": {"field": "t", "type": "quantitative", "format": ".3f"}}
                },
                {
                  "data": {"values": [{"t": 8.93, "v": 0.003, "s": "B"}]},
                  "mark": {"type": "text", "font": "Liberation Serif", "fontSize": 28, "align": "center", "baseline": "middle", "color": "black"},
                  "encoding": {"text": {"field": "s"}}
                }
              ]
            }
          ]
        }
      ]
    }
  ]
}
